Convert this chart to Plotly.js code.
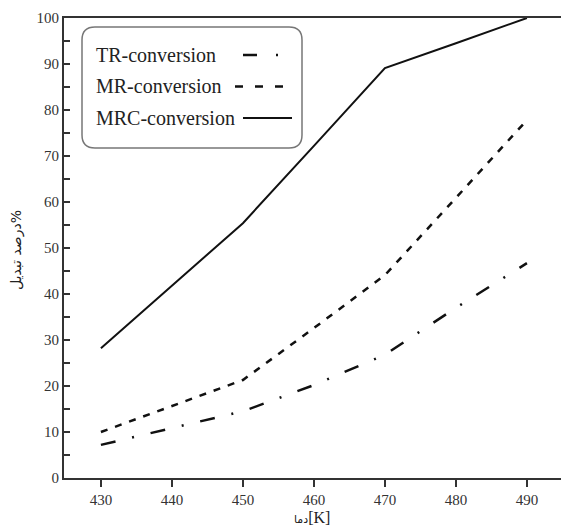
<!DOCTYPE html>
<html>
<head>
<meta charset="utf-8">
<script src="https://cdn.plot.ly/plotly-3.0.1.min.js"></script>
<style>html,body{margin:0;padding:0;background:#fff;}#chart{width:561px;height:527px;}</style>
</head>
<body>
<div id="chart"></div>
<script>
// ---- data ----
const temperatures = [430, 440, 450, 460, 470, 480, 490];
const trConversion  = [7.2, 10.8, 14.5, 20.2, 26.8, 37.0, 46.7];
const mrConversion  = [10.0, 15.6, 21.3, 32.6, 44.1, 60.9, 77.8];
const mrcConversion = [28.2, 41.8, 55.4, 72.2, 89.1, 94.5, 100.0];
const seriesNames = ['TR-conversion', 'MR-conversion', 'MRC-conversion'];
const xTitle = '<span style="font-family:DejaVu Sans;font-size:11px">دما</span>[K]';
const yTitle = 'درصد تبدیل%';

// ---- layout geometry (pixels) ----
const W = 561, H = 527, ML = 64, MR = 0, MT = 18, MB = 49;
const PW = W - ML - MR, PH = H - MT - MB;
const px = x => (x - ML) / PW;
const py = y => (H - MB - y) / PH;

const serif = 'Liberation Serif, Times New Roman, serif';
const ink = '#111';

const traces = [
  {x: temperatures, y: trConversion, name: seriesNames[0], mode: 'lines',
   line: {color: ink, width: 2.5, dash: '15px,17px,2px,17px'}},
  {x: temperatures, y: mrConversion, name: seriesNames[1], mode: 'lines',
   line: {color: ink, width: 2.5, dash: '7px,8px'}},
  {x: temperatures, y: mrcConversion, name: seriesNames[2], mode: 'lines',
   line: {color: ink, width: 2}}
];

// legend box (rounded) drawn manually: text first, sample line after
const bx0 = 82, bx1 = 302, by0 = 27, by1 = 148, r = 13;
const boxPath = [
  'M', px(bx0 + r), py(by0),
  'L', px(bx1 - r), py(by0),
  'Q', px(bx1), py(by0), px(bx1), py(by0 + r),
  'L', px(bx1), py(by1 - r),
  'Q', px(bx1), py(by1), px(bx1 - r), py(by1),
  'L', px(bx0 + r), py(by1),
  'Q', px(bx0), py(by1), px(bx0), py(by1 - r),
  'L', px(bx0), py(by0 + r),
  'Q', px(bx0), py(by0), px(bx0 + r), py(by0), 'Z'
].join(' ').replace(/ (-?[\d.]+) (-?[\d.]+)/g, ' $1,$2');

const rowsY = [55, 86.5, 118];
const sampleX = [[243, 279], [235, 283], [243, 292]];
const sampleDash = ['14px,19px,2px,19px', '8px,12px', 'solid'];
const sampleWidth = [2.5, 2.5, 2];

const shapes = [{type: 'path', xref: 'paper', yref: 'paper', path: boxPath,
  line: {color: '#777', width: 1.5}, fillcolor: 'rgba(0,0,0,0)'}];
const annotations = [];
seriesNames.forEach((n, i) => {
  annotations.push({xref: 'paper', yref: 'paper', x: px(94), y: py(rowsY[i]),
    xanchor: 'left', yanchor: 'middle', showarrow: false, text: n,
    font: {family: serif, size: 20, color: '#222'}});
  shapes.push({type: 'line', xref: 'paper', yref: 'paper',
    x0: px(sampleX[i][0]), x1: px(sampleX[i][1]), y0: py(rowsY[i]), y1: py(rowsY[i]),
    line: {color: ink, width: sampleWidth[i], dash: sampleDash[i]}});
});
annotations.push({xref: 'paper', yref: 'paper', x: px(312), y: py(517),
  xanchor: 'center', yanchor: 'middle', showarrow: false, text: xTitle,
  font: {family: serif, size: 16, color: '#222'}});
annotations.push({xref: 'paper', yref: 'paper', x: px(16), y: py(250),
  xanchor: 'center', yanchor: 'middle', showarrow: false, text: yTitle, textangle: -90,
  font: {family: 'DejaVu Sans, sans-serif', size: 14, color: '#222'}});

const layout = {
  width: W, height: H,
  margin: {l: ML, r: MR, t: MT, b: MB, pad: 0},
  paper_bgcolor: '#fff', plot_bgcolor: '#fff',
  showlegend: false,
  font: {family: serif, size: 15, color: '#333'},
  xaxis: {range: [424.8, 494.8], tick0: 430, dtick: 10, showgrid: false, zeroline: false,
    showline: true, linecolor: '#333', linewidth: 2, mirror: true,
    ticks: 'outside', ticklen: 7, tickwidth: 1.5, tickcolor: '#333',
    tickfont: {family: serif, size: 15, color: '#333'}, fixedrange: true},
  yaxis: {range: [0, 100], dtick: 10, showgrid: false, zeroline: false,
    showline: true, linecolor: '#333', linewidth: 2,
    ticks: 'inside', ticklen: 6, tickwidth: 1.5, tickcolor: '#333',
    minor: {dtick: 5, ticks: 'inside', ticklen: 6, tickwidth: 1.5, tickcolor: '#333', showgrid: false},
    tickfont: {family: serif, size: 15, color: '#333'}, fixedrange: true},
  shapes: shapes,
  annotations: annotations
};

Plotly.newPlot('chart', traces, layout, {staticPlot: true, displayModeBar: false});
</script>
</body>
</html>
